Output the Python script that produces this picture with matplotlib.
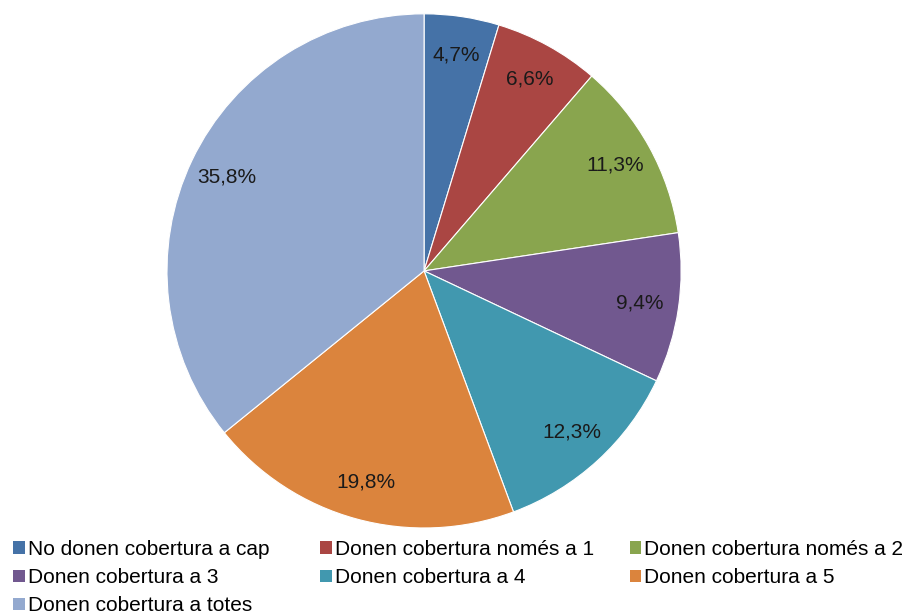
import matplotlib.pyplot as plt
from matplotlib.patches import Patch

plt.rcParams['font.family'] = ['Liberation Sans', 'DejaVu Sans']

# data
labels = ['No donen cobertura a cap', 'Donen cobertura només a 1', 'Donen cobertura només a 2',
          'Donen cobertura a 3', 'Donen cobertura a 4', 'Donen cobertura a 5',
          'Donen cobertura a totes']
values = [4.7, 6.6, 11.3, 9.4, 12.3, 19.8, 35.8]
colors = ['#4572A7', '#AA4643', '#89A54E', '#71588F', '#4198AF', '#DB843D', '#93A9CF']

fig = plt.figure(figsize=(9.1, 6.15), dpi=100)
ax = fig.add_axes([0.1835, 0.1415, 0.565, 0.836])

wedges, texts, autotexts = ax.pie(values, colors=colors, startangle=90, counterclock=False,
                                  autopct=lambda p: ('%.1f%%' % p).replace('.', ','),
                                  pctdistance=0.85, radius=1,
                                  wedgeprops=dict(edgecolor='white', linewidth=0.8),
                                  textprops=dict(fontsize=15, color='#1a1a1a'))
ax.set_xlim(-1, 1)
ax.set_ylim(-1, 1)
ax.set_aspect('equal')

# legend in three fixed columns, filled row by row like the original
columns = [[0, 3, 6], [1, 4], [2, 5]]
col_x = [0.0145, 0.352, 0.692]
for idx, x in zip(columns, col_x):
    handles = [Patch(facecolor=colors[i], edgecolor='none') for i in idx]
    fig.legend(handles, [labels[i] for i in idx], loc='upper left',
               bbox_to_anchor=(x, 1 - 540 / 615), frameon=False, fontsize=15,
               handlelength=0.55, handleheight=0.55, handletextpad=0.15,
               labelspacing=0.44, borderpad=0.0, borderaxespad=0.0)

fig.savefig('out.png', dpi=100)
